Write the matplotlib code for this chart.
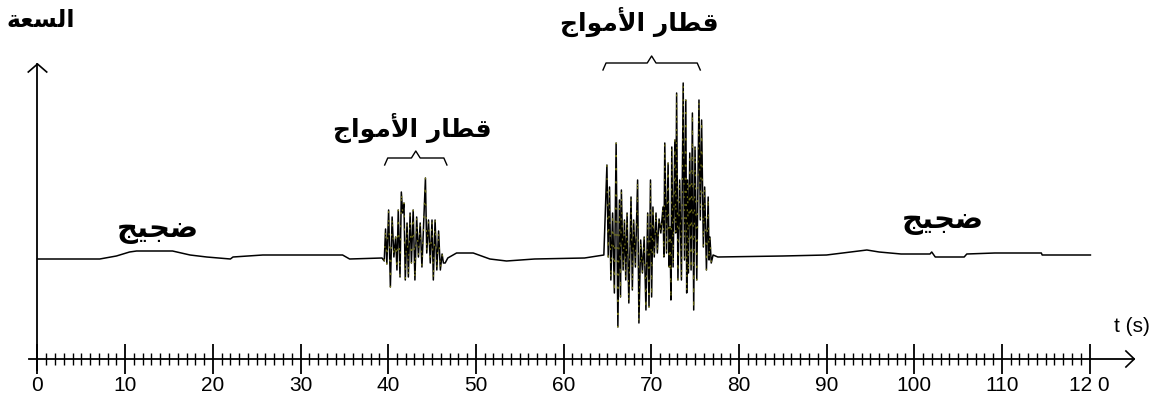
import matplotlib
matplotlib.use("Agg")
import matplotlib.pyplot as plt

# trace (time in s, amplitude in arbitrary units)
t_noise1 = [0, 7.1, 9.0, 10.5, 11.3, 15.4, 17.4, 19.3, 22.0, 22.3, 25.7, 34.8, 35.6, 39.3]
a_noise1 = [0, 0, 3, 7, 8, 8, 4, 2, 0, 2, 4, 4, 0, 1]

t_burst1 = [39.55, 39.7, 39.85, 40.05, 40.25, 40.45, 40.65, 40.85, 41.0, 41.15,
            41.35, 41.5, 41.65, 41.8, 41.95, 42.15, 42.3, 42.5, 42.65, 42.85,
            43.05, 43.25, 43.45, 43.65, 43.85, 44.25, 44.4, 44.6, 44.8, 45.0,
            45.15, 45.35, 45.55, 45.75, 45.95, 46.15, 46.3, 46.5]
a_burst1 = [-2, 30, -5, 49, -28, 42, 2, 22, -11, 49,
            -18, 67, 46, 56, -21, 36, -18, 46, -4, 49,
            -21, 42, 2, 36, -8, 81, 6, 39, -4, 39,
            -21, 39, -11, 28, -11, 5, -4, -4]

t_noise2 = [46.8, 47.8, 49.7, 51.6, 53.5, 56.7, 62.4, 64.6]
a_noise2 = [1, 6, 6, 0, -2, 0, 1, 4]

t_burst2 = [64.95, 65.1, 65.25, 65.4, 65.6, 65.8, 66.0, 66.2, 66.38, 66.5,
            66.6, 66.8, 66.95, 67.1, 67.25, 67.45, 67.7, 67.85, 68.0, 68.2,
            68.45, 68.6, 68.8, 69.0, 69.2, 69.4, 69.6, 69.75, 69.92, 70.05,
            70.2, 70.35, 70.55, 70.7, 70.9, 71.1, 71.35, 71.45, 71.55, 71.75,
            71.93, 72.05, 72.15, 72.25, 72.35, 72.5, 72.7, 72.8, 72.9, 73.05,
            73.25, 73.45, 73.65, 73.8, 73.95, 74.05, 74.15, 74.25, 74.4, 74.55,
            74.7, 74.85, 75.0, 75.2, 75.45, 75.6, 75.75, 75.95, 76.1, 76.3,
            76.5, 76.6, 76.7, 76.85, 77.06]
a_burst2 = [94, 2, 72, -21, 46, -34, 116, -68, 59, -38,
            69, -11, 39, -21, 46, -44, 62, -31, 39, -8,
            79, -64, 19, -14, 22, -51, 46, -48, 79, -38,
            52, 2, 46, 6, 40, 26, 52, 2, 116, 6,
            96, -8, 32, -41, 112, -8, 119, 26, 166, -21,
            79, -21, 176, -1, 159, -34, 79, -14, 106, -11,
            146, -51, 112, -21, 159, 39, 139, 12, 72, -11,
            62, -1, 22, -4, 4]

t_noise3 = [77.6, 85, 90, 92.7, 94.6, 96, 98.5, 101.8, 102.0, 102.4,
            105.7, 106.0, 109.2, 114.5, 114.6, 120.1]
a_noise3 = [2, 3, 4, 7, 9, 7, 5, 5, 7, 2,
            2, 5, 6, 6, 4, 4]

major_ticks = [0, 10, 20, 30, 40, 50, 60, 70, 80, 90, 100, 110, 120]
tick_labels = ["0", "10", "20", "30", "40", "50", "60", "70", "80", "90", "100", "110", "12 0"]

# brace spans (s) over the wave trains
brace1 = (39.6, 46.7)
brace2 = (64.5, 75.6)

label_amp = "السعة"
label_noise = "ضجيج"
label_train = "قطار الأمواج"
label_time = "t (s)"

# --- minimal arabic shaping (matplotlib does no joining / rtl) ---
FORMS = {
    'ا': ('\uFE8D', '\uFE8E', None, None),
    'أ': ('\uFE83', '\uFE84', None, None),
    'ة': ('\uFE93', '\uFE94', None, None),
    'ر': ('\uFEAD', '\uFEAE', None, None),
    'و': ('\uFEED', '\uFEEE', None, None),
    'ل': ('\uFEDD', '\uFEDE', '\uFEDF', '\uFEE0'),
    'س': ('\uFEB1', '\uFEB2', '\uFEB3', '\uFEB4'),
    'ع': ('\uFEC9', '\uFECA', '\uFECB', '\uFECC'),
    'ض': ('\uFEBD', '\uFEBE', '\uFEBF', '\uFEC0'),
    'ج': ('\uFE9D', '\uFE9E', '\uFE9F', '\uFEA0'),
    'ي': ('\uFEF1', '\uFEF2', '\uFEF3', '\uFEF4'),
    'ق': ('\uFED5', '\uFED6', '\uFED7', '\uFED8'),
    'ط': ('\uFEC1', '\uFEC2', '\uFEC3', '\uFEC4'),
    'م': ('\uFEE1', '\uFEE2', '\uFEE3', '\uFEE4'),
}
LAM_ALEF = {'ا': ('\uFEFB', '\uFEFC'), 'أ': ('\uFEF7', '\uFEF8')}


def shape(word):
    items = []
    i = 0
    while i < len(word):
        if word[i] == 'ل' and i + 1 < len(word) and word[i + 1] in LAM_ALEF:
            items.append(('LA', word[i + 1]))
            i += 2
        else:
            items.append((word[i], None))
            i += 1

    def dual(it):
        return it[0] in FORMS and FORMS[it[0]][2] is not None

    def letter(it):
        return it[0] == 'LA' or it[0] in FORMS

    out = []
    for k, it in enumerate(items):
        prev_j = k > 0 and dual(items[k - 1])
        next_j = dual(it) and k + 1 < len(items) and letter(items[k + 1])
        if it[0] == 'LA':
            out.append(LAM_ALEF[it[1]][1 if prev_j else 0])
        elif it[0] in FORMS:
            iso, fin, ini, med = FORMS[it[0]]
            if prev_j and next_j:
                out.append(med)
            elif prev_j:
                out.append(fin)
            elif next_j:
                out.append(ini)
            else:
                out.append(iso)
        else:
            out.append(it[0])
    return ''.join(reversed(out))


t = t_noise1 + t_burst1 + t_noise2 + t_burst2 + t_noise3
a = a_noise1 + a_burst1 + a_noise2 + a_burst2 + a_noise3

W, H = 1164, 408
px = 8.767          # pixels per second
x0 = 37.5           # pixel of t = 0
y0 = 259            # pixel of the baseline
fig = plt.figure(figsize=(W / 100, H / 100), dpi=100)
ax = fig.add_axes([0, 0, 1, 1])
ax.set_xlim(-x0 / px, (W - x0) / px)
ax.set_ylim(y0 - H, y0)

ax.plot(t, a, color="black", lw=1.1)
# the scanned original has a few olive/grey streaks through the wave trains
ax.plot(t_burst1, a_burst1, color="#8c8c1e", lw=0.9, dashes=(1.5, 9), alpha=0.8)
ax.plot(t_burst2, a_burst2, color="#8c8c1e", lw=0.9, dashes=(1.5, 9), alpha=0.8)

# axes
y_axis = y0 - 359
for s in ["top", "right"]:
    ax.spines[s].set_visible(False)
ax.spines["bottom"].set_position(("data", y_axis))
ax.spines["bottom"].set_bounds(-1.0, 125.1)
ax.spines["left"].set_position(("data", 0))
ax.spines["left"].set_bounds(y_axis - 11, y0 - 64)
for s in ["bottom", "left"]:
    ax.spines[s].set_linewidth(1.3)
ax.set_yticks([])
ax.set_xticks(major_ticks)
ax.set_xticks(range(0, 121), minor=True)
ax.set_xticklabels(tick_labels, fontsize=15, family="Liberation Sans")
ax.tick_params(axis="x", which="major", direction="inout", length=22, width=1.3, pad=1)
ax.tick_params(axis="x", which="minor", direction="inout", length=8, width=1.0)

# arrow heads (open chevrons)
ax.plot([125.1 - 0.95, 125.1, 125.1 - 0.95], [y_axis + 8, y_axis, y_axis - 8], color="black", lw=1.2)
ax.plot([-1.05, 0, 1.05], [y0 - 72, y0 - 64, y0 - 72], color="black", lw=1.2)

# braces
def brace(t0, t1, yb):
    tm = (t0 + t1) / 2
    ax.plot([t0, t0 + 0.35, tm - 0.5, tm, tm + 0.5, t1 - 0.35, t1],
            [yb, yb + 7, yb + 7, yb + 14, yb + 7, yb + 7, yb], color="black", lw=1.0)

brace(*brace1, y0 - 165)
brace(*brace2, y0 - 70)

arab = dict(family=["DejaVu Sans"], fontweight="bold", ha="center", va="center")
ax.text(0.4, y0 - 20, shape(label_amp), fontsize=17, **arab)
ax.text(13.7, y0 - 230, shape(label_noise), fontsize=21, **arab)
ax.text(103.3, y0 - 221, shape(label_noise), fontsize=21, **arab)
ax.text(42.8, y0 - 128, shape(label_train), fontsize=18, **arab)
ax.text(68.6, y0 - 22, shape(label_train), fontsize=18, **arab)
ax.text(124.8, y0 - 327, label_time, fontsize=15, family="Liberation Sans", ha="center", va="center")

fig.savefig("out.png", dpi=100)
